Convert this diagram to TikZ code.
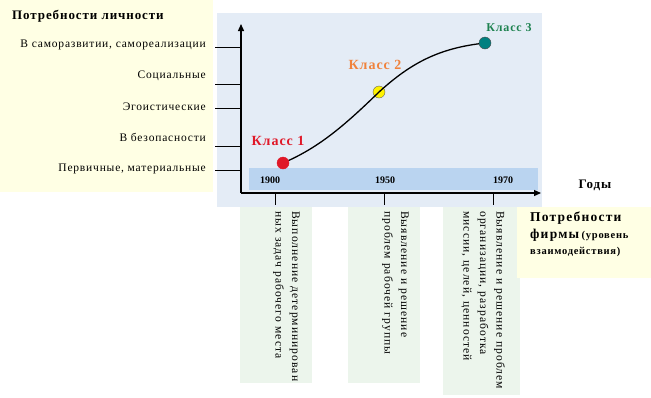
\documentclass[tikz,border=0pt]{standalone}
\usepackage{fontspec}
\setmainfont{Liberation Serif}
\newfontfamily\spaced[LetterSpace=7]{Liberation Serif}
\newfontfamily\wide[LetterSpace=9]{Liberation Serif}
\usetikzlibrary{arrows.meta}

\definecolor{paleyellow}{RGB}{255,255,228}
\definecolor{paleblue}{RGB}{228,236,246}
\definecolor{bandblue}{RGB}{186,212,240}
\definecolor{palegreen}{RGB}{236,245,236}
\definecolor{classred}{RGB}{224,24,40}
\definecolor{classorange}{RGB}{240,130,60}
\definecolor{classgreen}{RGB}{30,130,80}
\definecolor{dotteal}{RGB}{0,128,128}

\tikzset{
  need/.style={anchor=east, inner sep=0pt, font=\spaced\fontsize{11.5}{13}\selectfont},
  head/.style={inner sep=0pt, font=\spaced\bfseries\fontsize{13}{15}\selectfont},
  year/.style={inner sep=0pt, font=\bfseries\fontsize{10}{12}\selectfont},
  task/.style={rotate=-90, anchor=north west, align=left, inner sep=0pt,
    font=\wide\fontsize{11.6}{16.5}\selectfont},
  klass/.style={inner sep=0pt, font=\spaced\bfseries\fontsize{14}{16}\selectfont},
  dot/.style={circle, draw=black, inner sep=0pt, minimum size=12pt}
}

\begin{document}
\begin{tikzpicture}[x=1pt,y=-1pt]
\useasboundingbox (0,0) rectangle (651,397);

\fill[paleyellow] (0,0) rectangle (213,192);
\fill[paleblue] (217,13) rectangle (542,207);
\fill[bandblue] (249,168) rectangle (538,190);
\fill[palegreen] (240,207) rectangle (312,383);
\fill[palegreen] (348,207) rectangle (420,383);
\fill[palegreen] (443,207) rectangle (520,395);
\fill[paleyellow] (517,207) rectangle (651,278);

\node[head, anchor=west] (lich) at (12,16) {Потребности личности};

\foreach \ty/\ly/\txt [count=\i] in {47/45/{В саморазвитии, самореализации},
    84/76/Социальные, 108/107/Эгоистические, 146/137/В безопасности,
    170/169/{Первичные, материальные}}
{
  \node[need] (n\i) at (206,\ly) {\txt};
  \draw (215,\ty) -- (241,\ty);
}

\coordinate (o) at (241,193);
\coordinate (ytop) at (241,24);
\coordinate (xend) at (541,193);
\draw[line width=1.3pt, -{Triangle[length=7pt,width=6pt]}] (o) -- (ytop);
\draw[line width=1.3pt, -{Triangle[length=7pt,width=6pt]}] (o) -- (xend);

\node[year] (y1) at (270,180) {1900};
\node[year] (y2) at (385,180) {1950};
\node[year] (y3) at (503,180) {1970};

\foreach \x in {275,384,493}
  \draw (\x,193) -- (\x,205);

\coordinate (k1) at (283,163);
\coordinate (k2) at (379,92);
\coordinate (k3) at (485,43);

\node[dot, fill=yellow, draw=black!60] (d2) at (k2) {};
\draw[line width=1.3pt] (k1) .. controls (318,148) and (343,127) .. (k2)
  .. controls (412,62) and (440,48) .. (k3);
\node[dot, fill=classred, draw=classred] (d1) at (k1) {};
\node[dot, fill=dotteal, draw=black!70] (d3) at (k3) {};

\node[klass, text=classred] (kl1) at (278,141) {Класс 1};
\node[klass, text=classorange] (kl2) at (375,65) {Класс 2};
\node[klass, text=classgreen, font=\spaced\bfseries\fontsize{12}{14}\selectfont] (kl3) at (509,28) {Класс 3};

\node[task] (t1) at (300,211) {Выполнение детерминирован\\ных задач рабочего места};
\node[task] (t2) at (409,211) {Выявление и решение\\проблем рабочей группы};
\node[task] (t3) at (505,211) {Выявление и решение проблем\\организации, разработка\\миссии, целей, ценностей};

\node[head, anchor=center] (gody) at (595,185) {Годы};
\node[anchor=north west, align=left, inner sep=0pt] (firm) at (530,212)
  {{\wide\bfseries\fontsize{13.5}{16}\selectfont Потребности}\\[3pt]
   {\wide\bfseries\fontsize{13.5}{16}\selectfont фирмы} {\spaced\bfseries\fontsize{10.5}{12}\selectfont (уровень}\\[4pt]
   {\spaced\bfseries\fontsize{10.5}{12}\selectfont взаимодействия)}};
\end{tikzpicture}
\end{document}
